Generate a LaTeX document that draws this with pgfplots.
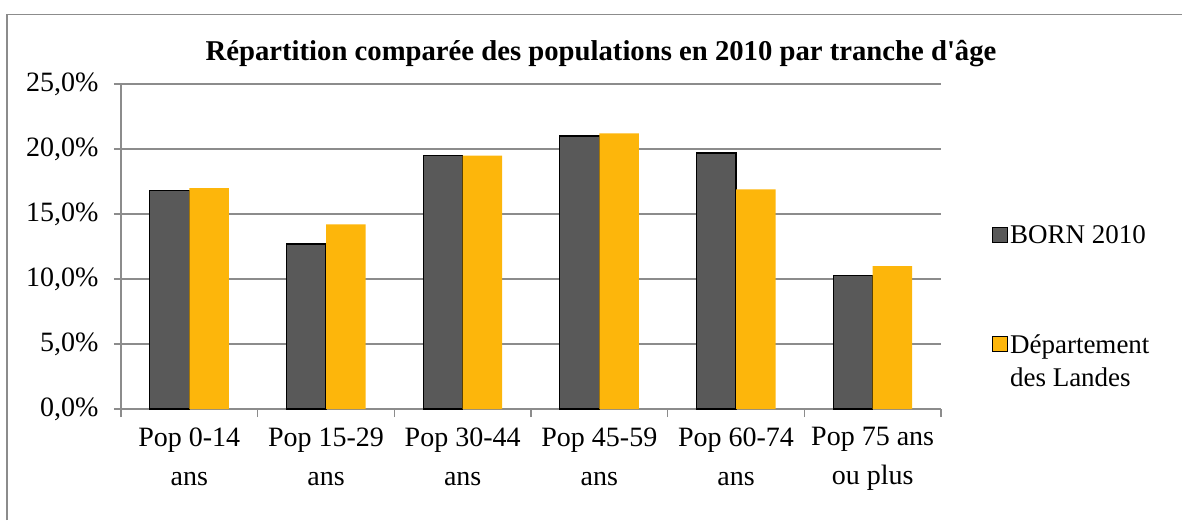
\documentclass[border=0pt]{standalone}
\usepackage{fontspec}
\setmainfont{Liberation Serif}[Ligatures=TeXOff]
\usepackage{pgfplots}
\pgfplotsset{compat=1.18}
\definecolor{born}{HTML}{595959}
\definecolor{landes}{HTML}{FDB60B}
\definecolor{gridc}{HTML}{8C8C8C}
\begin{document}
\begin{tikzpicture}
\useasboundingbox (0,0) rectangle (1182pt,520pt);
\draw[gridc, line width=1.5pt] (7pt,0pt) -- (7pt,505.5pt) -- (1182pt,505.5pt);
\node[font=\bfseries\fontsize{28.7}{34}\selectfont, anchor=base] at (601pt,459pt) {Répartition comparée des populations en 2010 par tranche d'âge};
\begin{axis}[at={(121pt,111pt)}, anchor=south west, scale only axis,
  width=820pt, height=325pt,
  ybar=0pt, bar width=39.5pt,
  xmin=-0.5, xmax=5.5, ymin=0, ymax=25,
  ytick={0,5,...,25},
  yticklabels={{0,0\%},{5,0\%},{10,0\%},{15,0\%},{20,0\%},{25,0\%}},
  xtick={0,...,5},
  xticklabels={{Pop 0-14\\[5pt]ans},{Pop 15-29\\[5pt]ans},{Pop 30-44\\[5pt]ans},{Pop 45-59\\[5pt]ans},{Pop 60-74\\[5pt]ans},{Pop 75 ans\\[5pt]ou plus}},
  minor xtick={-0.5,0.5,...,5.5},
  axis x line*=bottom, axis y line*=left,
  axis line style={gridc, line width=1.3pt, -},
  tick align=outside, major tick length=7pt, minor tick length=8pt,
  major x tick style={draw=none},
  minor x tick style={gridc, line width=1.3pt},
  major y tick style={gridc, line width=1.3pt},
  ymajorgrids, grid style={gridc, line width=1.3pt},
  minor grid style={draw=none},
  ticklabel style={font=\fontsize{28}{34}\selectfont},
  xticklabel style={align=center, yshift=-8pt},
  yticklabel style={xshift=-12pt},
  legend style={at={(1.062,0.57)}, anchor=north west, draw=none, fill=none,
    font=\fontsize{27}{33}\selectfont, row sep=85pt, inner sep=0pt,
    cells={anchor=west}},
  legend image code/.code={\draw[#1, line width=1pt] (0pt,-7pt) rectangle (15pt,8pt);},
]
\addplot[fill=born, draw=black, line width=1.2pt] coordinates {(0,16.8) (1,12.7) (2,19.5) (3,21.0) (4,19.7) (5,10.3)};
\addlegendentry{BORN 2010}
\addplot[fill=landes, draw=none] coordinates {(0,17.0) (1,14.2) (2,19.5) (3,21.2) (4,16.9) (5,11.0)};
\addlegendentry{\vtop{\hbox{Département}\hbox{des Landes}}}
\end{axis}
\end{tikzpicture}
\end{document}
